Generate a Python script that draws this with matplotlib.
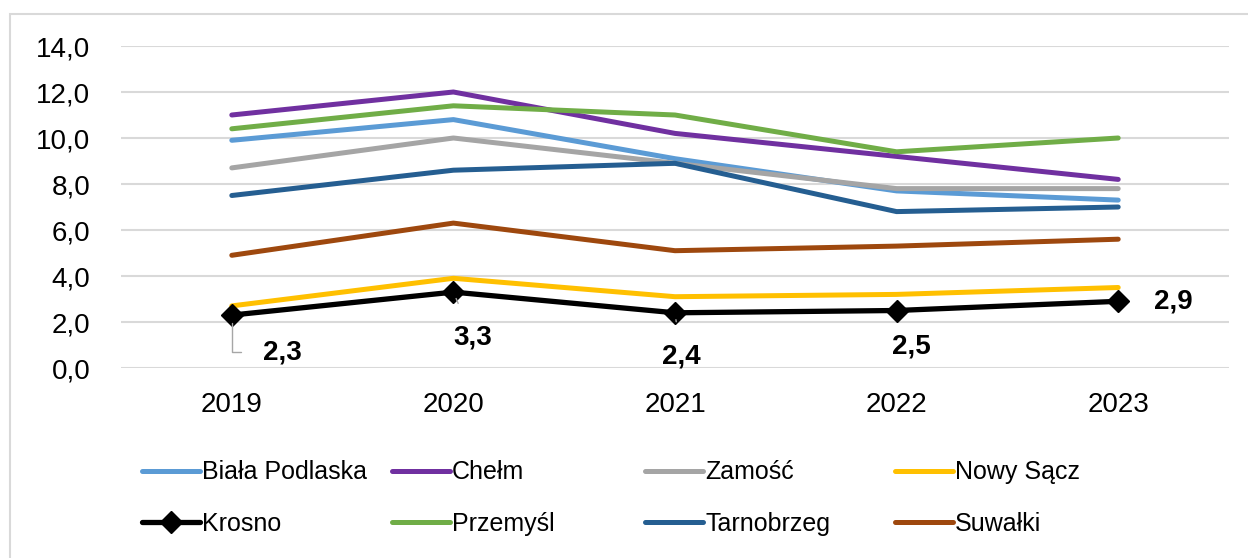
import matplotlib
matplotlib.use("Agg")
import matplotlib.pyplot as plt
from matplotlib.patches import Rectangle
from matplotlib.ticker import FuncFormatter

plt.rcParams['font.family'] = ['Liberation Sans', 'DejaVu Sans']

# dane
years = ['2019', '2020', '2021', '2022', '2023']
biala_podlaska = [9.9, 10.8, 9.1, 7.7, 7.3]
chelm = [11.0, 12.0, 10.2, 9.2, 8.2]
zamosc = [8.7, 10.0, 8.9, 7.8, 7.8]
nowy_sacz = [2.7, 3.9, 3.1, 3.2, 3.5]
krosno = [2.3, 3.3, 2.4, 2.5, 2.9]
przemysl = [10.4, 11.4, 11.0, 9.4, 10.0]
tarnobrzeg = [7.5, 8.6, 8.9, 6.8, 7.0]
suwalki = [4.9, 6.3, 5.1, 5.3, 5.6]

names = ['Biała Podlaska', 'Chełm', 'Zamość', 'Nowy Sącz',
         'Krosno', 'Przemyśl', 'Tarnobrzeg', 'Suwałki']
series = [biala_podlaska, chelm, zamosc, nowy_sacz,
          krosno, przemysl, tarnobrzeg, suwalki]
colors = ['#5B9BD5', '#7030A0', '#A5A5A5', '#FFC000',
          '#000000', '#70AD47', '#255E91', '#9E480E']

fig = plt.figure(figsize=(12.48, 5.58), dpi=100)
ax = fig.add_axes([121 / 1248, 1 - 368 / 558, 1108 / 1248, 322 / 558])

# ramka wykresu
fig.patches.append(Rectangle((10 / 1248, -0.2), 1.2, 1.2 - 14 / 558,
                             transform=fig.transFigure, fill=False,
                             edgecolor='#d9d9d9', linewidth=1.5))

x = list(range(len(years)))
lines = {}
for name, vals, col in zip(names, series, colors):
    if name == 'Krosno':
        ln, = ax.plot(x, vals, color=col, lw=3.8, marker='D', markersize=11,
                      solid_capstyle='round', zorder=5)
    else:
        ln, = ax.plot(x, vals, color=col, lw=3.6, solid_capstyle='round',
                      solid_joinstyle='round', zorder=3)
    lines[name] = ln

# etykiety danych Krosno (przesunięcia w pikselach)
offsets = [(51, -37), (19, -45), (6, -44), (15, -36), (55, 0)]
for i, (v, off) in enumerate(zip(krosno, offsets)):
    if i == 0:
        ap = dict(arrowstyle='-', color='#a6a6a6', lw=1,
                  connectionstyle='angle,angleA=0,angleB=90,rad=0',
                  shrinkA=14, shrinkB=6)
    elif i in (1, 2):
        ap = dict(arrowstyle='-', color='#a6a6a6', lw=1, shrinkA=14, shrinkB=5)
    else:
        ap = None
    ax.annotate(f'{v:.1f}'.replace('.', ','), xy=(i, v), xytext=off,
                textcoords='offset pixels', ha='center', va='center',
                fontsize=20, fontweight='bold', arrowprops=ap, zorder=6)

ax.set_xlim(-0.5, 4.5)
ax.set_ylim(0, 14)
ax.set_yticks(range(0, 15, 2))
ax.yaxis.set_major_formatter(FuncFormatter(lambda v, p: f'{v:.1f}'.replace('.', ',')))
ax.set_xticks(x)
ax.set_xticklabels(years)
ax.tick_params(axis='both', length=0, labelsize=20)
ax.tick_params(axis='y', pad=22)
ax.tick_params(axis='x', pad=17)
ax.grid(axis='y', color='#d9d9d9', lw=1.5)
ax.set_axisbelow(True)
for s in ax.spines.values():
    s.set_visible(False)

# legenda: cztery kolumny
cols = [['Biała Podlaska', 'Krosno'], ['Chełm', 'Przemyśl'],
        ['Zamość', 'Tarnobrzeg'], ['Nowy Sącz', 'Suwałki']]
xs = [142, 392, 645, 895]
for xc, group in zip(xs, cols):
    leg = fig.legend([lines[n] for n in group], group, loc='center left',
                     bbox_to_anchor=(xc / 1248, 1 - 498 / 558), frameon=False,
                     fontsize=18, handlelength=2.3, handletextpad=0.1,
                     labelspacing=1.1, borderpad=0, borderaxespad=0)

fig.savefig('out.png', dpi=100)
